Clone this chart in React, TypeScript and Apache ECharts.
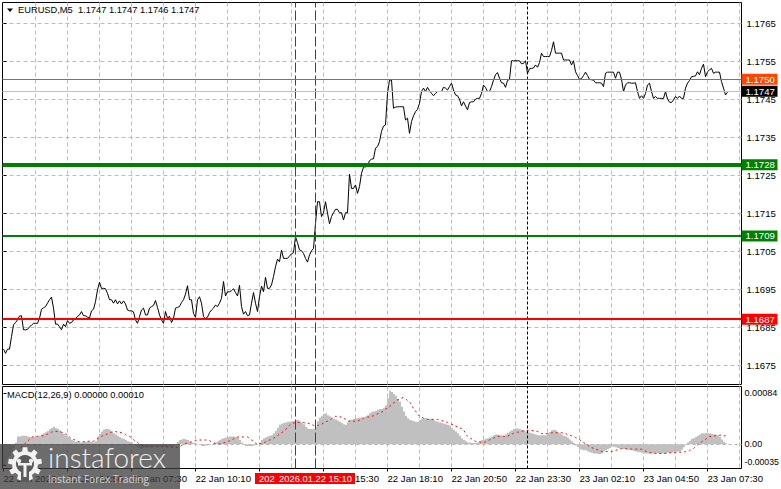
import React, { useEffect, useRef } from "react";
import * as echarts from "echarts";

const symbolTitle = "EURUSD,M5  1.1747 1.1747 1.1746 1.1747";
const macdTitle = "MACD(12,26,9) 0.00000 0.00010";
const priceTicks = [1.1765, 1.1755, 1.1745, 1.1735, 1.1725, 1.1715, 1.1705, 1.1695, 1.1685, 1.1675];
const macdTicks = [0.00084, 0, -0.00035];
const gridBars = [16, 32, 48, 64, 80, 96, 112, 128, 144, 160, 176, 192, 208, 224, 240, 256, 272, 288, 304, 320, 336, 352, 368];
const timeBars = [0, 32, 64, 96, 128, 160, 192, 224, 256, 288, 320, 352];
const timeLabels = ["22 Jan 2026", "22 Jan 04:50", "22 Jan 07:30", "22 Jan 10:10", "22 Jan 12:50", "22 Jan 15:30", "22 Jan 18:10", "22 Jan 20:50", "22 Jan 23:30", "23 Jan 02:10", "23 Jan 04:50", "23 Jan 07:30"];
const levels = [
  { value: 1.17503, label: "1.1750", color: "#ff4500", line: "#ff4500", width: 1 },
  { value: 1.174716, label: "1.1747", color: "#000000", line: "#c0c0c0", width: 1 },
  { value: 1.17278, label: "1.1728", color: "#008000", line: "#008000", width: 4 },
  { value: 1.17091, label: "1.1709", color: "#008000", line: "#008000", width: 2 },
  { value: 1.16872, label: "1.1687", color: "#ff0000", line: "#ff0000", width: 2 },
];
const markedBars = [146, 156];
const crosshairBar = 262;

const closes = [
  1.16793,1.16782,1.16793,1.16793,1.16826,1.16857,1.16863,1.16870,1.16880,1.16881,1.16844,1.16844,1.16845,1.16852,1.16856,1.16861,
  1.16861,1.16861,1.16874,1.16898,1.16902,1.16905,1.16914,1.16923,1.16930,1.16901,1.16859,1.16859,1.16852,1.16844,1.16859,1.16852,
  1.16868,1.16861,1.16863,1.16870,1.16874,1.16879,1.16883,1.16892,1.16881,1.16881,1.16877,1.16875,1.16894,1.16898,1.16918,1.16949,
  1.16969,1.16953,1.16953,1.16952,1.16940,1.16923,1.16923,1.16914,1.16923,1.16912,1.16920,1.16912,1.16920,1.16912,1.16896,1.16894,
  1.16894,1.16891,1.16870,1.16861,1.16879,1.16896,1.16901,1.16883,1.16883,1.16901,1.16905,1.16908,1.16921,1.16903,1.16883,1.16870,
  1.16861,1.16892,1.16874,1.16880,1.16863,1.16874,1.16901,1.16903,1.16905,1.16916,1.16923,1.16938,1.16960,1.16923,1.16923,1.16887,
  1.16877,1.16923,1.16931,1.16914,1.16879,1.16874,1.16877,1.16889,1.16896,1.16901,1.16909,1.16905,1.16914,1.16927,1.16971,1.16933,
  1.16944,1.16944,1.16947,1.16952,1.16942,1.16933,1.16961,1.16905,1.16885,1.16892,1.16881,1.16883,1.16914,1.16942,1.16914,1.16892,
  1.16931,1.16959,1.16944,1.16982,1.16953,1.16953,1.16962,1.16984,1.17010,1.17030,1.17023,1.17054,1.17032,1.17032,1.17032,1.17038,
  1.17044,1.17047,1.17089,1.17073,1.17054,1.17052,1.17045,1.17032,1.17022,1.17041,1.17052,1.17058,
  1.17124,1.17181,1.17181,1.17142,1.17152,1.17181,1.17151,1.17123,1.17142,1.17152,1.17161,1.17161,1.17152,1.17152,1.17133,1.17152,
  1.17152,1.17254,1.17216,1.17216,1.17225,1.17203,1.17221,1.17256,1.17272,1.17273,1.17275,1.17289,1.17293,1.17294,1.17322,1.17326,
  1.17339,1.17366,1.17380,1.17383,1.17466,1.17501,1.17501,1.17427,1.17430,1.17431,1.17431,1.17431,1.17431,1.17396,1.17401,1.17361,
  1.17392,1.17407,1.17418,1.17424,1.17440,1.17471,1.17480,1.17471,1.17482,1.17473,1.17466,1.17460,1.17466,1.17471,1.17471,1.17471,
  1.17482,1.17480,1.17475,1.17484,1.17493,1.17475,1.17462,1.17460,1.17451,1.17433,1.17444,1.17433,1.17423,1.17442,1.17444,1.17444,
  1.17451,1.17453,1.17453,1.17466,1.17488,1.17482,1.17471,1.17471,1.17484,1.17501,1.17515,1.17521,1.17506,1.17494,1.17493,1.17482,
  1.17500,1.17503,1.17552,1.17552,1.17552,1.17552,1.17552,1.17544,1.17545,1.17552,1.17519,1.17531,1.17532,1.17533,1.17541,1.17535,
  1.17547,1.17572,1.17563,1.17563,1.17563,1.17563,1.17579,1.17602,1.17572,1.17572,1.17572,1.17572,1.17554,1.17554,1.17554,1.17554,
  1.17541,1.17552,1.17523,1.17513,1.17503,1.17505,1.17513,1.17522,1.17513,1.17503,1.17502,1.17501,1.17494,1.17494,1.17494,1.17493,
  1.17484,1.17519,1.17522,1.17522,1.17522,1.17522,1.17506,1.17522,1.17522,1.17503,1.17471,1.17488,1.17494,1.17494,1.17493,1.17493,
  1.17494,1.17471,1.17453,1.17460,1.17453,1.17466,1.17488,1.17493,1.17471,1.17453,1.17458,1.17453,1.17453,1.17453,1.17453,1.17471,
  1.17451,1.17443,1.17442,1.17449,1.17458,1.17453,1.17459,1.17453,1.17453,1.17480,1.17493,1.17500,1.17510,1.17511,1.17512,1.17523,
  1.17515,1.17532,1.17543,1.17510,1.17523,1.17528,1.17532,1.17519,1.17522,1.17522,1.17522,1.17497,1.17480,1.17462,1.17469,
];

// MACD histogram and signal, in points (0.00001)
const macdPoints = [
  -34,-30,-25,-20,-15,-7,3,13,13,14,14,14,13,12,12,12,13,13,14,16,18,20,22,25,27,29,27,25,23,20,17,14,
  12,10,7,5,4,4,3,3,4,4,4,4,4,3,5,13,17,21,24,25,25,24,21,18,16,14,12,10,9,7,5,4,
  3,-1,-3,-5,-7,-7,-6,-5,-5,-5,-4,-4,-4,-4,-4,-4,-4,-4,-4,-4,-4,-3,1,4,7,8,9,8,7,4,3,2,
  1,0,-1,-3,-3,-2,-2,-1,0,2,3,5,7,9,10,11,12,13,13,13,12,11,7,3,-1,-3,-3,-3,-3,-2,-1,0,
  3,7,10,11,13,14,15,18,22,27,32,34,35,36,37,37,38,38,40,40,38,36,33,29,26,25,25,25,29,38,
  44,47,50,51,48,46,44,42,41,39,37,35,33,32,36,40,41,42,43,43,44,44,44,46,48,51,53,54,55,57,58,58,
  60,64,76,88,86,83,80,75,70,62,54,47,43,40,39,38,37,37,40,42,43,43,42,42,42,40,38,37,36,35,34,33,
  32,31,27,24,21,18,14,10,7,5,3,3,2,2,2,3,5,7,8,9,10,11,13,15,16,16,15,15,14,16,19,21,
  23,25,26,26,25,24,23,21,20,19,18,17,16,15,15,15,15,15,18,20,23,24,23,20,18,16,14,13,11,8,5,2,
  -2,-5,-8,-9,-10,-10,-12,-13,-14,-15,-15,-16,-16,-15,-12,-10,-8,-6,-4,-4,-5,-6,-7,-7,-8,-8,-9,-9,-10,-11,-12,-13,
  -13,-14,-15,-15,-15,-15,-15,-15,-15,-15,-15,-15,-15,-15,-14,-14,-14,-13,-13,-12,-12,-9,-5,-1,3,6,9,10,12,14,16,18,
  18,18,18,18,17,16,16,15,12,8,4,2,0,
];
const signalPoints = [
  -34,-32,-30,-28,-25,-23,-19,-14,-10,-5,-1,2,5,8,11,13,13,13,14,14,14,15,17,18,20,21,21,21,21,20,19,17,
  15,12,9,8,7,5,4,4,4,5,5,5,5,5,7,9,11,13,15,16,17,19,20,21,21,20,20,19,18,16,14,13,
  11,8,5,3,0,-1,-2,-3,-4,-4,-4,-4,-4,-4,-4,-4,-4,-4,-4,-5,-5,-5,-5,-5,-4,-2,-1,1,2,3,4,5,
  6,7,7,7,7,7,7,6,4,3,1,0,1,2,2,3,4,6,7,9,10,12,12,12,12,12,12,10,7,5,2,0,
  1,1,2,4,5,7,8,10,12,14,17,19,21,24,28,31,33,35,36,36,36,36,36,35,35,34,33,31,30,31,32,33,
  35,37,38,40,42,44,46,46,45,45,44,41,38,38,38,38,38,38,40,41,43,44,45,45,46,47,49,50,52,53,55,58,
  60,62,65,68,70,73,74,76,77,75,72,70,65,59,55,50,46,45,43,42,41,41,41,41,41,41,40,39,38,37,36,35,
  33,32,30,29,27,26,24,18,13,11,9,7,5,4,4,3,3,4,6,7,9,10,12,13,13,13,13,13,13,15,16,18,
  19,20,20,21,22,22,23,23,23,22,22,21,20,18,17,17,18,18,19,19,19,19,19,19,19,18,16,15,14,13,11,10,
  8,5,3,1,-1,-4,-5,-7,-8,-9,-11,-12,-12,-12,-12,-12,-12,-11,-10,-9,-8,-7,-7,-7,-8,-8,-8,-8,-8,-8,-8,-8,
  -10,-11,-13,-14,-14,-14,-15,-15,-15,-15,-15,-15,-15,-14,-14,-14,-14,-14,-13,-13,-13,-12,-12,-10,-9,-7,-4,-1,2,4,6,8,
  11,13,13,14,14,15,15,15,14,14,13,
];

const labelFont = "Liberation Sans";
const gridDash = { color: "#bcbcbc", width: 1, type: [4, 3] as number[] };

const verticalMarks = [
  ...markedBars.map((b) => ({
    xAxis: b,
    lineStyle: { color: "#e00000", width: 1, type: [10, 3] as number[] },
  })),
  { xAxis: crosshairBar, lineStyle: { color: "#000000", width: 1, type: [3, 2] as number[] } },
];

function gearPoints(cx: number, cy: number, outer: number, inner: number, teeth: number) {
  const pts: number[][] = [];
  const step = (Math.PI * 2) / teeth;
  for (let t = 0; t < teeth; t++) {
    const a = t * step - Math.PI / 2;
    const w = step * 0.2;
    pts.push([cx + inner * Math.cos(a - w * 1.5), cy + inner * Math.sin(a - w * 1.5)]);
    pts.push([cx + outer * Math.cos(a - w), cy + outer * Math.sin(a - w)]);
    pts.push([cx + outer * Math.cos(a + w), cy + outer * Math.sin(a + w)]);
    pts.push([cx + inner * Math.cos(a + w * 1.5), cy + inner * Math.sin(a + w * 1.5)]);
  }
  return pts;
}

export default function App() {
  const ref = useRef<HTMLDivElement>(null);
  useEffect(() => {
    document.body.style.margin = "0";
    const chart = echarts.init(ref.current!, undefined, { renderer: "svg" });
    const wm = "rgba(62,62,62,0.76)";
    chart.setOption({
      animation: false,
      backgroundColor: "#ffffff",
      textStyle: { fontFamily: labelFont },
      grid: [
        { left: 2.5, top: 2.5, width: 739, height: 382, show: true, borderColor: "#000", borderWidth: 1, backgroundColor: "#fff", outerBoundsMode: "none" },
        { left: 2.5, top: 386.5, width: 739, height: 82, show: true, borderColor: "#000", borderWidth: 1, backgroundColor: "#fff", outerBoundsMode: "none" },
      ],
      xAxis: [
        {
          type: "value", gridIndex: 0, min: -0.5, max: 369,
          axisLine: { show: false }, axisLabel: { show: false },
          axisTick: { show: false, customValues: gridBars },
          splitLine: { show: true, lineStyle: gridDash },
        },
        {
          type: "value", gridIndex: 1, min: -0.5, max: 369,
          axisLine: { show: false }, axisLabel: { show: false },
          axisTick: { show: false, customValues: gridBars },
          splitLine: { show: true, lineStyle: gridDash },
        },
        {
          type: "value", gridIndex: 1, min: -0.5, max: 369, position: "bottom",
          axisLine: { show: false },
          axisTick: { show: true, length: 3, customValues: timeBars, lineStyle: { color: "#000" } },
          axisLabel: {
            show: true, customValues: timeBars, align: "left", margin: 5, color: "#000",
            fontFamily: labelFont, fontSize: 9.6, hideOverlap: false,
            formatter: (v: number) => timeLabels[timeBars.indexOf(v)] ?? "",
          },
          splitLine: { show: false },
        },
      ],
      yAxis: [
        {
          type: "value", gridIndex: 0, position: "right", min: 1.167, max: 1.177053,
          axisLine: { show: false },
          axisTick: { show: true, length: 3, customValues: priceTicks, lineStyle: { color: "#000" } },
          axisLabel: {
            show: true, customValues: priceTicks, margin: 5, color: "#000",
            fontFamily: labelFont, fontSize: 9.6, hideOverlap: false,
            formatter: (v: number) => v.toFixed(4),
          },
          splitLine: { show: true, lineStyle: gridDash },
        },
        {
          type: "value", gridIndex: 1, position: "right", min: -0.000399, max: 0.000952,
          axisLine: { show: false },
          axisTick: { show: true, length: 3, customValues: macdTicks, lineStyle: { color: "#000" } },
          axisLabel: {
            show: true, customValues: macdTicks, margin: 3, color: "#000",
            fontFamily: labelFont, fontSize: 9.1, hideOverlap: false,
            formatter: (v: number) => (v === 0 ? "0.00" : v < 0 ? "{low|" + v.toFixed(5) + "}" : v.toFixed(5)),
            rich: { low: { fontFamily: labelFont, fontSize: 8.7, color: "#000", padding: [0, 0, 8, 0] } },
          },
          splitLine: { show: false },
        },
      ],
      series: [
        {
          type: "line", xAxisIndex: 0, yAxisIndex: 0, z: 3,
          data: closes.map((c, i) => [i, c]),
          showSymbol: false, symbol: "none", lineStyle: { color: "#000", width: 1 },
          markLine: {
            silent: true, symbol: ["none", "none"], z: 5, precision: 6,
            data: [
              ...verticalMarks.map((m) => ({ ...m, label: { show: false } })),
              ...levels.map((l) => ({
                yAxis: l.value,
                lineStyle: { color: l.line, width: l.width, type: "solid" },
                label: {
                  show: true, position: "end", distance: 0, formatter: l.label,
                  color: "#fff", backgroundColor: l.color, fontFamily: labelFont, fontSize: 9.6,
                  padding: [1, 4, 1, 4], width: 28, height: 9, lineHeight: 9,
                },
              })),
            ],
          },
        },
        {
          type: "custom", xAxisIndex: 1, yAxisIndex: 1, z: 2,
          encode: { x: 0, y: 1 },
          data: macdPoints.map((m, i) => [i, m / 100000]),
          renderItem: (_p: unknown, api: any) => {
            const base = api.coord([api.value(0), 0]);
            const top = api.coord([api.value(0), api.value(1)]);
            return {
              type: "rect",
              shape: { x: Math.round(base[0] - 1), y: Math.min(base[1], top[1]), width: 2, height: Math.abs(top[1] - base[1]) },
              style: { fill: "#c0c0c0" },
            };
          },
          markLine: {
            silent: true, symbol: ["none", "none"], z: 1, precision: 6,
            label: { show: false },
            data: [{ yAxis: 0, lineStyle: { color: "#b4b4b4", width: 1, type: [3, 3] } }],
          },
        },
        {
          type: "line", xAxisIndex: 1, yAxisIndex: 1, z: 4,
          data: signalPoints.map((s, i) => [i, s / 100000]),
          showSymbol: false, symbol: "none",
          lineStyle: { color: "#ff0000", width: 1, type: [2, 3] },
          markLine: {
            silent: true, symbol: ["none", "none"], z: 5, label: { show: false },
            data: verticalMarks,
          },
        },
      ],
      graphic: [
        { type: "polygon", z: 60, shape: { points: [[7, 8.5], [13, 8.5], [10, 12]] }, style: { fill: "#000" } },
        { type: "text", z: 60, x: 18, y: 5, style: { text: symbolTitle, fill: "#000", font: `9.3px "${labelFont}"` } },
        { type: "text", z: 60, x: 7, y: 390, style: { text: macdTitle, fill: "#000", font: `9.3px "${labelFont}"` } },
        { type: "rect", z: 60, shape: { x: 255, y: 473, width: 80, height: 11 }, style: { fill: "#ff0000" } },
        { type: "text", z: 61, x: 259, y: 474, style: { text: "2026.01.22 14:20", fill: "#fff", font: `9.4px "${labelFont}"` } },
        { type: "rect", z: 62, shape: { x: 275, y: 473, width: 80, height: 11 }, style: { fill: "#ff0000" } },
        { type: "text", z: 63, x: 279, y: 474, style: { text: "2026.01.22 15:10", fill: "#fff", font: `9.4px "${labelFont}"` } },
        { type: "rect", z: 70, shape: { x: 0, y: 444, width: 180, height: 45 }, style: { fill: wm } },
        { type: "polygon", z: 71, shape: { points: gearPoints(25, 464, 17, 13, 9) }, style: { fill: "#f2f2f2" } },
        { type: "circle", z: 72, shape: { cx: 25, cy: 464, r: 9 }, style: { fill: "#5c5c5c" } },
        { type: "rect", z: 72, shape: { x: 21, y: 470, width: 8, height: 12 }, style: { fill: "#5c5c5c" } },
        { type: "circle", z: 73, shape: { cx: 19, cy: 461, r: 2.2 }, style: { fill: "#f2f2f2" } },
        { type: "circle", z: 73, shape: { cx: 31, cy: 461, r: 2.2 }, style: { fill: "#f2f2f2" } },
        { type: "rect", z: 73, shape: { x: 23.5, y: 464, width: 3, height: 13 }, style: { fill: "#f2f2f2" } },
        { type: "rect", z: 73, shape: { x: 18, y: 463, width: 14, height: 2.5 }, style: { fill: "#f2f2f2" } },
        { type: "text", z: 74, x: 48, y: 443, style: { text: "instaforex", fill: "#f0f0f0", font: `300 28px "Lato"` } },
        { type: "text", z: 74, x: 48, y: 474, style: { text: "Instant Forex Trading", fill: "rgba(240,240,240,0.8)", font: `10.2px "Open Sans"` } },
      ],
    });
    return () => chart.dispose();
  }, []);
  return <div ref={ref} style={{ width: 781, height: 489 }} />;
}
